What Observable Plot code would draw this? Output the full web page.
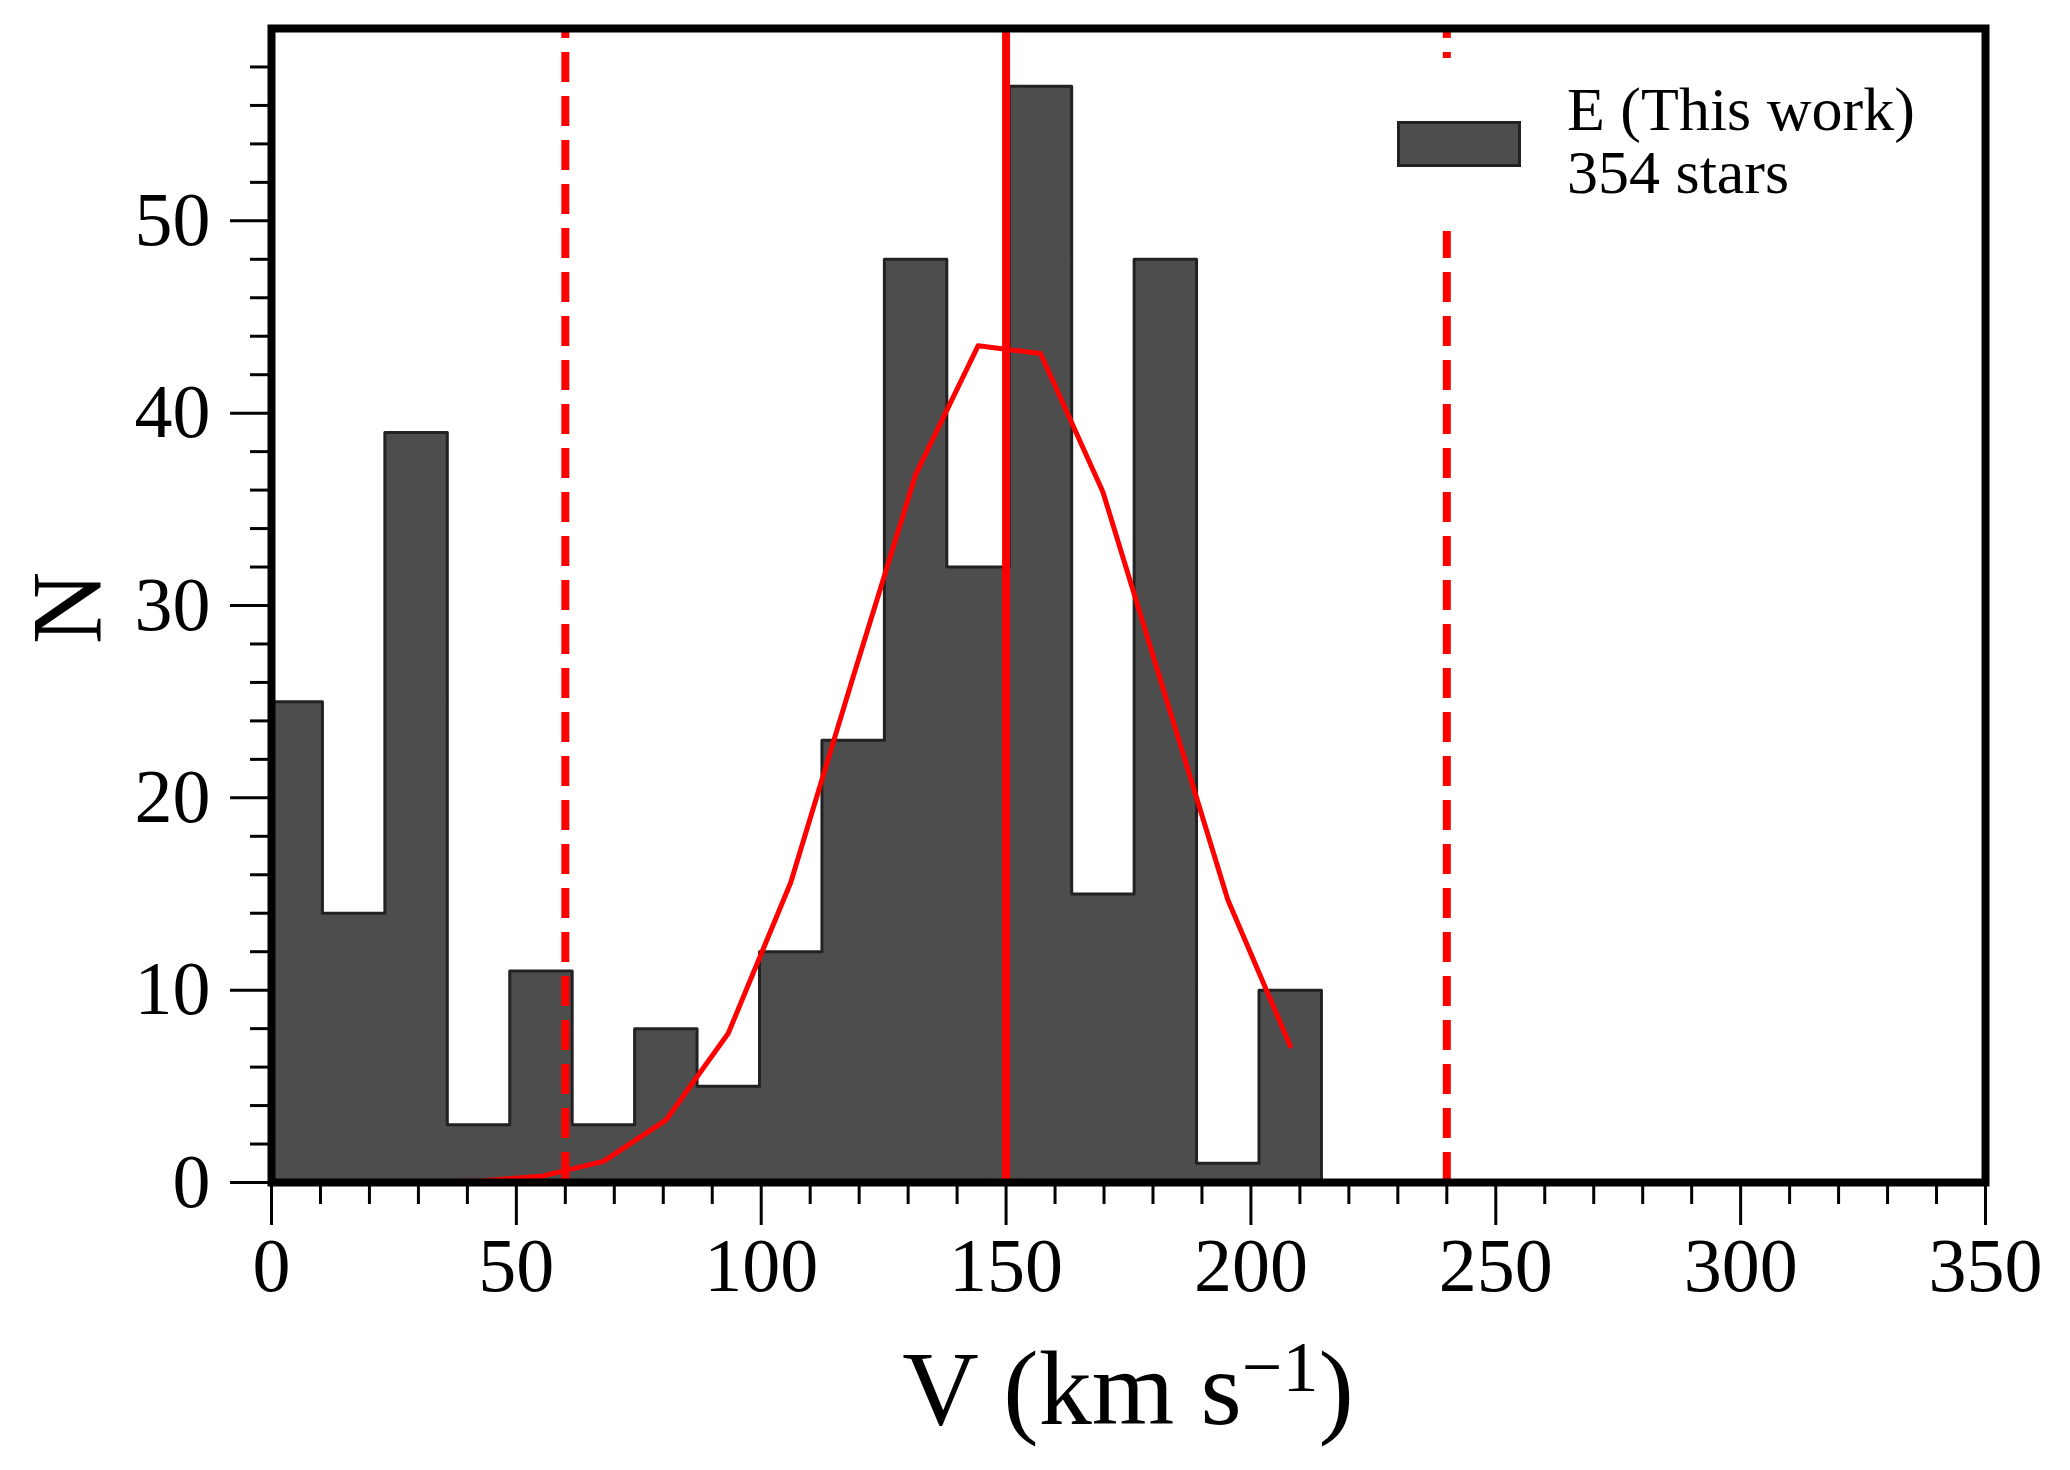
<!DOCTYPE html>
<html><head><meta charset="utf-8">
<script src="https://cdn.jsdelivr.net/npm/d3@7"></script>
<script src="https://cdn.jsdelivr.net/npm/@observablehq/plot@0.6"></script>
<style>
body{margin:0;background:#fff;}
#wrap{position:relative;width:2070px;height:1470px;overflow:hidden;}
#legend{position:absolute;left:1375px;top:58px;width:590px;height:173px;background:#fff;}
</style></head><body><div id="wrap"></div>
<script>
// histogram bin edges (km/s) and counts per bin
const binEdges = [-2.35, 10.40, 23.15, 35.90, 48.65, 61.40, 74.15, 86.90, 99.65, 112.40, 125.15, 137.90, 150.65, 163.40, 176.15, 188.90, 201.65, 214.40];
const counts = [25, 14, 39, 3, 11, 3, 8, 5, 12, 23, 48, 32, 57, 15, 48, 1, 10];
// gaussian fit, drawn at bin centres
const fitCenters = [4.03, 16.78, 29.53, 42.28, 55.03, 67.78, 80.53, 93.28, 106.03, 118.78, 131.53, 144.28, 157.03, 169.78, 182.53, 195.28, 208.03];
const fitValues = [0.0, 0.0, 0.01, 0.08, 0.32, 1.10, 3.24, 7.76, 15.6, 26.3, 36.8, 43.5, 43.1, 35.9, 25.3, 14.7, 7.1];
// reference lines
const meanLine = [150];
const limitLines = [60, 240];
// ticks
const xTicks = [0, 50, 100, 150, 200, 250, 300, 350];
const xMinor = [10, 20, 30, 40, 60, 70, 80, 90, 110, 120, 130, 140, 160, 170, 180, 190, 210, 220, 230, 240, 260, 270, 280, 290, 310, 320, 330, 340];
const yTicks = [0, 10, 20, 30, 40, 50];
const yMinor = [2, 4, 6, 8, 12, 14, 16, 18, 22, 24, 26, 28, 32, 34, 36, 38, 42, 44, 46, 48, 52, 54, 56, 58];
const legendName = "E (This work)";
const legendCount = "354 stars";

// step-filled histogram: one point per bin start, plus closing edge
const steps = counts.map((n, i) => ({x: binEdges[i], y: n}));
steps.push({x: binEdges[binEdges.length - 1], y: counts[counts.length - 1]});
const outline = [{x: binEdges[0], y: 0}, ...steps, {x: binEdges[binEdges.length - 1], y: 0}];
const fit = fitCenters.map((x, i) => ({x, y: fitValues[i]}));

const font = "'Liberation Serif', 'Times New Roman', serif";
const plot = Plot.plot({
  width: 2070, height: 1470,
  marginLeft: 271, marginRight: 85, marginTop: 28, marginBottom: 288,
  x: {domain: [0, 350], label: null},
  y: {domain: [0, 60], label: null},
  style: {background: "white", fontFamily: font, fontSize: "76px", color: "black"},
  marks: [
    Plot.areaY(steps, {x: "x", y: "y", curve: "step-after", fill: "#4d4d4d", clip: true}),
    Plot.line(outline, {x: "x", y: "y", curve: "step-after", stroke: "#222", strokeWidth: 3, clip: true}),
    Plot.line(fit, {x: "x", y: "y", stroke: "#ff0000", strokeWidth: 5, clip: true}),
    Plot.ruleX(meanLine, {y1: 0, y2: 60, stroke: "#ff0000", strokeWidth: 8}),
    Plot.ruleX(limitLines, {y1: 0, y2: 60, stroke: "#ff0000", strokeWidth: 8, strokeDasharray: "30,14"}),
    Plot.axisX({ticks: xTicks, tickSize: 43, tickPadding: 12, strokeWidth: 3, label: null, fontSize: 76, tickFormat: d => String(d)}),
    Plot.axisX({ticks: xMinor, tickSize: 22, text: null, strokeWidth: 3, label: null}),
    Plot.axisY({ticks: yTicks, tickSize: 41, tickPadding: 20, strokeWidth: 3, label: null, fontSize: 76, tickFormat: d => String(d)}),
    Plot.axisY({ticks: yMinor, tickSize: 21, text: null, strokeWidth: 3, label: null}),
    Plot.frame({stroke: "black", strokeWidth: 8})
  ]
});

const svg = d3.select(plot);
// y label (rotated)
svg.append("text")
  .attr("transform", "translate(100,608) rotate(-90)")
  .attr("text-anchor", "middle")
  .style("font-family", font).style("font-size", "100px").attr("fill", "black")
  .text("N");
// x label with superscript
const xl = svg.append("text")
  .attr("x", 1128).attr("y", 1424)
  .attr("text-anchor", "middle")
  .style("font-family", font).style("font-size", "106px").attr("fill", "black");
xl.append("tspan").text("V (km s");
xl.append("tspan").attr("dy", -33).style("font-size", "72px").text("\u22121");
xl.append("tspan").attr("dy", 33).text(")");

const wrap = document.getElementById("wrap");
wrap.appendChild(plot);

// legend box overlay
const leg = document.createElement("div");
leg.id = "legend";
wrap.appendChild(leg);
const ls = d3.select(leg).append("svg").attr("width", 590).attr("height", 173);
ls.append("rect").attr("x", 23.5).attr("y", 64.5).attr("width", 121).attr("height", 43)
  .attr("fill", "#4d4d4d").attr("stroke", "#222").attr("stroke-width", 3);
ls.append("text").attr("x", 192).attr("y", 72).style("font-family", font).style("font-size", "62px").attr("fill", "black").text(legendName);
ls.append("text").attr("x", 192).attr("y", 135).style("font-family", font).style("font-size", "62px").attr("fill", "black").text(legendCount);
</script>
</body></html>
